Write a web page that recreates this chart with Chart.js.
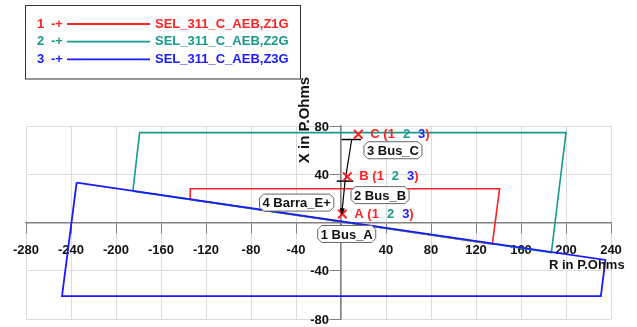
<!DOCTYPE html>
<html>
<head>
<meta charset="utf-8">
<script src="https://cdn.jsdelivr.net/npm/chart.js@4.4.1/dist/chart.umd.min.js"></script>
<style>
  html, body { margin: 0; padding: 0; background: #fff; }
  #wrap { position: relative; width: 637px; height: 327px; }
</style>
</head>
<body>
<div id="wrap"><canvas id="chart"></canvas></div>
<script>
// relay zones (R, X in primary ohms)
const zoneNames = ['SEL_311_C_AEB,Z1G', 'SEL_311_C_AEB,Z2G', 'SEL_311_C_AEB,Z3G']
const zoneColors = ['#ff2222', '#17998c', '#1a1aff']
const zone1R = [-134, -134, 141, 134.5, -134]
const zone1X = [19, 28, 28, -18, 19]
const zone2R = [-185, -179, 200, 187, -185]
const zone2X = [26, 74.5, 74.5, -25, 26]
const zone3R = [-235, 235, 231, -248, -235]
const zone3X = [33, -31, -61, -61, 33]

// fault points and trajectory
const faultNames = ['A', 'B', 'C']
const faultR = [1.2, 5.6, 15.4]
const faultX = [7, 37.9, 73.1]
const pathR = [9.5, 3.6, 0.6]
const pathX = [68.8, 34.3, 6]
const barBR = [-3.8, 10.9]
const barBX = [34.3, 34.3]
const barCR = [0.6, 17.8]
const barCX = [68.8, 68.8]

// bus labels
const busLabels = ['1 Bus_A', '2 Bus_B', '3 Bus_C', '4 Barra_E+']
const busR = [5.1, 34.7, 46.2, -39.4]
const busX = [-9.5, 22.7, 59.9, 16.5]

// axis ticks
const rTicks = [-280, -240, -200, -160, -120, -80, -40, 0, 40, 80, 120, 160, 200, 240]
const xTicks = [-80, -40, 0, 40, 80]

const FONT = '"Liberation Sans", Arial, sans-serif'
const pts = (rs, xs) => rs.map((r, i) => ({ x: r, y: xs[i] }))

const overlay = {
  id: 'overlay',
  afterDatasetsDraw(chart) {
    const { ctx, scales: { x, y } } = chart
    ctx.save()

    // legend box
    ctx.strokeStyle = '#333'
    ctx.lineWidth = 1
    ctx.strokeRect(25.5, 5.5, 275, 73.5)
    ctx.font = 'bold 13px ' + FONT
    ctx.textBaseline = 'middle'
    ctx.textAlign = 'left'
    zoneNames.forEach((name, i) => {
      const yy = 24 + i * 17.7
      ctx.fillStyle = zoneColors[i]
      ctx.strokeStyle = zoneColors[i]
      ctx.fillText(String(i + 1), 37, yy)
      ctx.fillText('-+', 51, yy)
      ctx.lineWidth = 1.8
      ctx.beginPath()
      ctx.moveTo(67, yy)
      ctx.lineTo(150, yy)
      ctx.stroke()
      ctx.fillText(name, 155, yy)
    })

    // y tick labels, left of the centred axis
    const ax = x.getPixelForValue(0)
    ctx.fillStyle = '#111'
    ctx.textAlign = 'right'
    y.ticks.forEach(t => {
      if (t.value !== 0) ctx.fillText(String(t.value), ax - 12, y.getPixelForValue(t.value) + 1)
    })
    ctx.textAlign = 'left'

    // arrow head at end of trajectory
    const n = pathR.length
    const ex = x.getPixelForValue(pathR[n - 1]), ey = y.getPixelForValue(pathX[n - 1])
    const sx = x.getPixelForValue(pathR[n - 2]), sy = y.getPixelForValue(pathX[n - 2])
    const a = Math.atan2(ey - sy, ex - sx)
    ctx.fillStyle = '#000'
    ctx.beginPath()
    ctx.moveTo(ex, ey)
    ctx.lineTo(ex - 7 * Math.cos(a) + 2.5 * Math.sin(a), ey - 7 * Math.sin(a) - 2.5 * Math.cos(a))
    ctx.lineTo(ex - 7 * Math.cos(a) - 2.5 * Math.sin(a), ey - 7 * Math.sin(a) + 2.5 * Math.cos(a))
    ctx.closePath()
    ctx.fill()

    // fault labels  "A (1 2 3)"
    faultNames.forEach((f, i) => {
      let cx = x.getPixelForValue(faultR[i]) + 12
      const cy = y.getPixelForValue(faultX[i])
      const first = f + ' (1'
      ctx.fillStyle = zoneColors[0]
      ctx.fillText(first, cx, cy)
      cx += ctx.measureText(first).width + 8
      ctx.fillStyle = zoneColors[1]
      ctx.fillText('2', cx, cy)
      cx += ctx.measureText('2').width + 8
      ctx.fillStyle = zoneColors[2]
      ctx.fillText('3', cx, cy)
      cx += ctx.measureText('3').width
      ctx.fillStyle = zoneColors[0]
      ctx.fillText(')', cx, cy)
    })

    // bus label boxes
    busLabels.forEach((t, i) => {
      const cx = x.getPixelForValue(busR[i]), cy = y.getPixelForValue(busX[i])
      const w = ctx.measureText(t).width + 6, h = 17, c = 4
      const l = cx - w / 2, r = cx + w / 2, tp = cy - h / 2, b = cy + h / 2
      ctx.beginPath()
      ctx.moveTo(l + c, tp); ctx.lineTo(r - c, tp); ctx.lineTo(r, tp + c); ctx.lineTo(r, b - c)
      ctx.lineTo(r - c, b); ctx.lineTo(l + c, b); ctx.lineTo(l, b - c); ctx.lineTo(l, tp + c)
      ctx.closePath()
      ctx.fillStyle = '#fff'
      ctx.fill()
      ctx.strokeStyle = '#666'
      ctx.lineWidth = 1
      ctx.stroke()
      ctx.fillStyle = '#111'
      ctx.textAlign = 'center'
      ctx.fillText(t, cx, cy + 1)
      ctx.textAlign = 'left'
    })

    // axis titles
    ctx.fillStyle = '#111'
    ctx.textAlign = 'left'
    ctx.fillText('R in P.Ohms', 549, 265)
    ctx.translate(305, 120)
    ctx.rotate(-Math.PI / 2)
    ctx.textAlign = 'center'
    ctx.font = 'bold 15px ' + FONT
    ctx.fillText('X in P.Ohms', 0, 0)
    ctx.restore()
  }
}

const line = (data, color, width, order) => ({
  data, showLine: true, borderColor: color, borderWidth: width,
  pointRadius: 0, fill: false, order
})

new Chart(document.getElementById('chart'), {
  type: 'scatter',
  data: {
    datasets: [
      { data: pts(faultR, faultX), showLine: false, pointStyle: 'crossRot', pointRadius: 6,
        borderColor: zoneColors[0], backgroundColor: zoneColors[0], borderWidth: 2, order: 0 },
      line(pts(pathR, pathX), '#000', 1.2, 1),
      line(pts(barBR, barBX), '#000', 1.5, 1),
      line(pts(barCR, barCX), '#000', 1.5, 1),
      line(pts(zone3R, zone3X), zoneColors[2], 1.8, 2),
      line(pts(zone2R, zone2X), zoneColors[1], 1.6, 3),
      line(pts(zone1R, zone1X), zoneColors[0], 1.6, 4)
    ]
  },
  options: {
    responsive: true,
    maintainAspectRatio: false,
    animation: false,
    layout: { padding: { left: 26, right: 26, top: 126, bottom: 8 } },
    plugins: { legend: { display: false }, tooltip: { enabled: false } },
    scales: {
      x: {
        type: 'linear', min: -280, max: 240, position: { y: 0 },
        afterBuildTicks: s => { s.ticks = rTicks.map(v => ({ value: v })) },
        grid: { color: '#dcdcdc', tickColor: '#808080', tickLength: 10 },
        border: { color: '#808080', width: 1.5 },
        ticks: { font: { family: FONT, size: 13, weight: 'bold' }, color: '#111', padding: 10,
          maxRotation: 0, autoSkip: false, callback: v => v === 0 ? '' : String(v) }
      },
      y: {
        type: 'linear', min: -80, max: 80, position: { x: 0 },
        afterBuildTicks: s => { s.ticks = xTicks.map(v => ({ value: v })) },
        grid: { color: '#dcdcdc', tickColor: '#808080', tickLength: 10 },
        border: { color: '#808080', width: 1.5 },
        ticks: { display: false }
      }
    }
  },
  plugins: [overlay]
})
</script>
</body>
</html>
